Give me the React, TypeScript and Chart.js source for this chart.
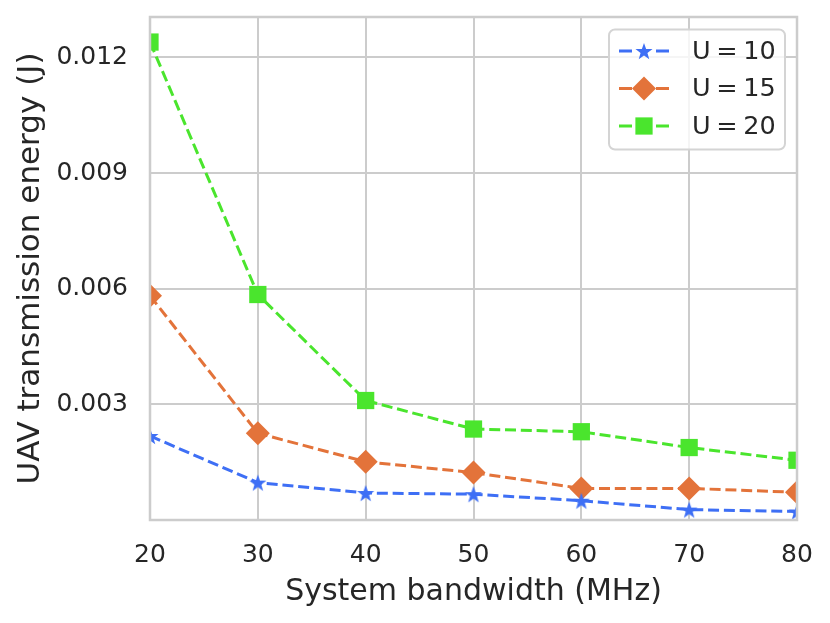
import { useEffect, useRef } from "react";
import { Chart, registerables, type Plugin } from "chart.js";
import { drawPoint } from "chart.js/helpers";

Chart.register(...registerables);

// data
const bandwidth = [20, 30, 40, 50, 60, 70, 80];
const energyU10 = [0.00218, 0.00097, 0.0007, 0.00067, 0.0005, 0.00027, 0.00022];
const energyU15 = [0.00582, 0.00225, 0.00151, 0.00123, 0.00082, 0.00082, 0.00072];
const energyU20 = [0.0124, 0.00585, 0.0031, 0.00236, 0.00229, 0.00188, 0.00155];
const yTicks = [0.003, 0.006, 0.009, 0.012];
const seriesLabels = ["U = 10", "U = 15", "U = 20"];

const FONT = "'DejaVu Sans', sans-serif";
const TEXT = "#262626";
const GRID = "#cccccc";
const BLUE = "#3e6ff5";
const ORANGE = "#e3733a";
const GREEN = "#4ae52d";

function makeStar(color: string, r: number) {
  const size = Math.ceil(r * 2 + 2);
  const c = document.createElement("canvas");
  c.width = size;
  c.height = size;
  const ctx = c.getContext("2d")!;
  const cx = size / 2;
  const cy = size / 2 + r * 0.1;
  ctx.beginPath();
  for (let i = 0; i < 10; i++) {
    const rad = i % 2 === 0 ? r : r * 0.4;
    const a = -Math.PI / 2 + (i * Math.PI) / 5;
    const px = cx + rad * Math.cos(a);
    const py = cy + rad * Math.sin(a);
    if (i === 0) ctx.moveTo(px, py);
    else ctx.lineTo(px, py);
  }
  ctx.closePath();
  ctx.fillStyle = color;
  ctx.fill();
  return c;
}

const framePlugin: Plugin<"line"> = {
  id: "frame",
  afterDatasetsDraw(chart) {
    const { ctx, chartArea: a } = chart;
    ctx.save();
    ctx.strokeStyle = GRID;
    ctx.lineWidth = 2.5;
    ctx.strokeRect(a.left, a.top, a.right - a.left, a.bottom - a.top);
    ctx.restore();
  },
};

const boxLegend: Plugin<"line"> = {
  id: "boxLegend",
  afterDraw(chart) {
    const { ctx, chartArea: a } = chart;
    const x0 = a.right - 188;
    const y0 = a.top + 12.5;
    const w = 176;
    const h = 120;
    ctx.save();
    ctx.beginPath();
    ctx.roundRect(x0, y0, w, h, 6);
    ctx.fillStyle = "rgba(255,255,255,0.8)";
    ctx.fill();
    ctx.strokeStyle = "#d4d4d4";
    ctx.lineWidth = 2;
    ctx.stroke();

    chart.data.datasets.forEach((ds: any, i) => {
      const cy = y0 + 21.5 + i * 37.5;
      const cx = x0 + 35;
      ctx.strokeStyle = ds.borderColor;
      ctx.lineWidth = 3;
      ctx.beginPath();
      ctx.moveTo(x0 + 10, cy);
      ctx.lineTo(x0 + 23, cy);
      ctx.moveTo(x0 + 47, cy);
      ctx.lineTo(x0 + 60, cy);
      ctx.stroke();
      ctx.fillStyle = ds.backgroundColor;
      drawPoint(ctx, { pointStyle: ds.pointStyle, rotation: 0, radius: ds.pointRadius, borderWidth: 0 }, cx, cy);
      ctx.fillStyle = TEXT;
      ctx.font = `25.5px ${FONT}`;
      (ctx as any).wordSpacing = "-2.5px";
      ctx.textAlign = "left";
      ctx.textBaseline = "middle";
      ctx.fillText(ds.label, x0 + 83, cy + 1);
    });
    ctx.restore();
  },
};

export default function App() {
  const canvasRef = useRef<HTMLCanvasElement>(null);
  const chartRef = useRef<Chart | null>(null);

  useEffect(() => {
    if (!canvasRef.current) return;
    document.body.style.margin = "0";

    const toPoints = (vals: number[]) => bandwidth.map((x, i) => ({ x, y: vals[i] }));
    const common = { borderWidth: 3, borderDash: [11, 4.8], tension: 0, pointBorderWidth: 0, pointHoverRadius: 0 };

    chartRef.current = new Chart(canvasRef.current, {
      type: "line",
      data: {
        datasets: [
          { ...common, label: seriesLabels[0], data: toPoints(energyU10), borderColor: BLUE, backgroundColor: BLUE, pointStyle: makeStar(BLUE, 9) as any, pointRadius: 9 },
          { ...common, label: seriesLabels[1], data: toPoints(energyU15), borderColor: ORANGE, backgroundColor: ORANGE, pointStyle: "rectRot", pointRadius: 12 },
          { ...common, label: seriesLabels[2], data: toPoints(energyU20), borderColor: GREEN, backgroundColor: GREEN, pointStyle: "rect", pointRadius: 12.2 },
        ],
      },
      options: {
        animation: false,
        responsive: true,
        maintainAspectRatio: false,
        layout: { padding: { top: 17, right: 33, left: 0, bottom: 0 } },
        plugins: { legend: { display: false }, tooltip: { enabled: false } },
        scales: {
          x: {
            type: "linear",
            min: 20,
            max: 80,
            afterFit: (s: any) => {
              s.height = 103;
              s.paddingLeft = 0;
              s.paddingRight = 0;
            },
            grid: { color: GRID, lineWidth: 2, drawTicks: false },
            border: { display: false },
            ticks: { stepSize: 10, color: TEXT, font: { family: FONT, size: 25 }, padding: 20, maxRotation: 0, autoSkip: false },
            title: { display: true, text: "System bandwidth (MHz)", color: TEXT, font: { family: FONT, size: 30 }, padding: { top: 0, bottom: 13 } },
          },
          y: {
            type: "linear",
            min: 0,
            max: 0.01305,
            afterFit: (s: any) => {
              s.width = 150;
              s.paddingTop = 0;
              s.paddingBottom = 0;
            },
            afterBuildTicks: (s) => {
              s.ticks = yTicks.map((v) => ({ value: v }));
            },
            grid: { color: GRID, lineWidth: 2, drawTicks: false },
            border: { display: false },
            ticks: { color: TEXT, font: { family: FONT, size: 25 }, padding: 22, autoSkip: false, callback: (v) => Number(v).toFixed(3) },
            title: { display: true, text: "UAV transmission energy (J)", color: TEXT, font: { family: FONT, size: 31 }, padding: { top: 12, bottom: 0 } },
          },
        },
      },
      plugins: [framePlugin, boxLegend],
    });

    return () => {
      chartRef.current?.destroy();
    };
  }, []);

  return (
    <div style={{ width: 830, height: 623, position: "relative" }}>
      <canvas ref={canvasRef} />
    </div>
  );
}
